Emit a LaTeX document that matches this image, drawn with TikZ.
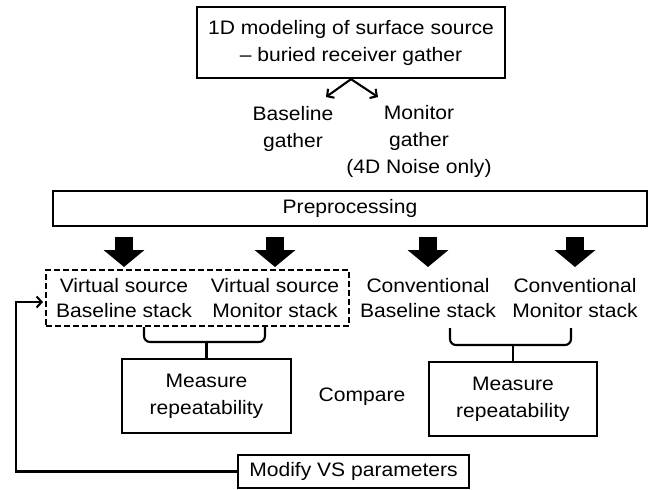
\documentclass[tikz,border=0pt]{standalone}
\usepackage{fontspec}
\setmainfont[FakeStretch=1.08]{Liberation Sans}
\usetikzlibrary{arrows.meta}

\begin{document}
\begin{tikzpicture}[x=1pt, y=-1pt,
    box/.style={draw, line width=2.3pt, inner sep=0pt, align=center},
    lbl/.style={inner sep=0pt, align=center},
    stack/.style={lbl, anchor=north, font=\fontsize{19.5}{25}\selectfont},
    link/.style={line width=2.1pt},
    bigarrow/.style={line width=18pt, -{Triangle[width=40pt,length=17pt]}},
    every node/.style={font=\fontsize{19.5}{27}\selectfont}]
    \useasboundingbox (0,0) rectangle (654,490);

    \node[box, minimum width=308pt, minimum height=71pt] (model) at (351,42.5) {1D modeling of surface source\\– buried receiver gather};
    \node[lbl] (basegath) at (293,128.5) {Baseline\\gather};
    \node[lbl] (mongath) at (419,141.5) {Monitor\\gather\\(4D Noise only)};
    \coordinate (bgtip) at (326,97);
    \coordinate (mgtip) at (378,97);
    \draw[link, -{Straight Barb[length=5pt,width=11pt]}] (model.south) -- (bgtip);
    \draw[link, -{Straight Barb[length=5pt,width=11pt]}] (model.south) -- (mgtip);

    \node[box, minimum width=594pt, minimum height=35pt] (prep) at (350,208.5) {Preprocessing};

    \node[stack] (vsb) at (124,278) {Virtual source\\Baseline stack};
    \node[stack] (vsm) at (275,278) {Virtual source\\Monitor stack};
    \node[stack] (cvb) at (428,278) {Conventional\\Baseline stack};
    \node[stack] (cvm) at (575,278) {Conventional\\Monitor stack};

    \foreach \s in {vsb,vsm,cvb,cvm}
        \draw[bigarrow] ([yshift=-10pt]prep.south -| \s.north) -- ([yshift=11pt]\s.north);

    %\node[draw, fit=(vsb)(vsm)] {};
    \node[draw, dash pattern=on 6pt off 3pt, line width=1.9pt, minimum width=303pt, minimum height=56pt] (vsgroup) at (197.5,298) {};

    \node[box, minimum width=169pt, minimum height=74pt] (meas1) at (206.5,396) {Measure\\repeatability};
    \node[box, minimum width=168pt, minimum height=74pt] (meas2) at (513,399) {Measure\\repeatability};
    \node[lbl] (comp) at (362,397) {Compare};

    \draw[link, rounded corners=6pt] (144,327) -- (144,342) -- (265,342) -- (265,327);
    \draw[link] (meas1.north) -- ++(0,-17);
    \draw[link, rounded corners=6pt] (450,328) -- (450,345) -- (571,345) -- (571,328);
    \draw[link] (meas2.north) -- ++(0,-17);

    \node[box, minimum width=231pt, minimum height=33pt] (modify) at (353.5,471.5) {Modify VS parameters};
    \coordinate (fbk) at (43,302);
    \draw[link, -{Straight Barb[length=5pt,width=11pt]}] (modify.west) -| (16,302) -- (fbk);
\end{tikzpicture}
\end{document}
